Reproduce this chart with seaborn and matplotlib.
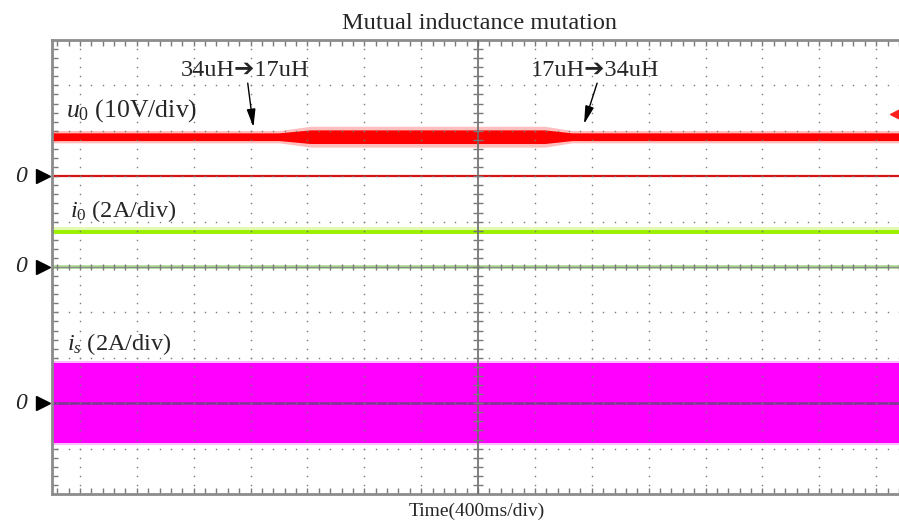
import numpy as np
import pandas as pd
import matplotlib
matplotlib.use("Agg")
import matplotlib.pyplot as plt
import seaborn as sns

# ---- recorded channels (time in s, trigger at t = 0) ----
t_span = [-3.0, 2.96]
t_env = [-3.0, -1.40, -1.18, 0.47, 0.66, 2.96]
u0_mean = [8.7, 8.7, 8.7, 8.7, 8.7, 8.7]        # V, output voltage
u0_core = [0.85, 0.85, 1.5, 1.5, 0.85, 0.85]    # V, half width of dense ripple band
u0_peak = [1.35, 1.35, 2.3, 2.3, 1.35, 1.35]    # V, half width reached by spikes
i0_mean = [1.55, 1.55]                          # A, output current
i0_core = [0.08, 0.08]
i0_peak = [0.22, 0.22]
is_amp = [1.75, 1.75]                           # A, HF source current amplitude
is_peak = [1.85, 1.85]

# scope channel settings
u0_scale, i0_scale, is_scale = 10.0, 2.0, 2.0   # units per division
u0_zero, i0_zero, is_zero = 7, 5, 2             # zero levels (divisions)
t_div = 0.4                                     # s per division

sns.set_theme(style="white")
plt.rcParams["font.family"] = ["Liberation Serif", "DejaVu Sans"]
plt.rcParams["mathtext.fontset"] = "custom"
plt.rcParams["mathtext.rm"] = "Liberation Serif"
plt.rcParams["mathtext.it"] = "Liberation Serif:italic"

W, H = 899, 523
fig = plt.figure(figsize=(W / 100, H / 100), dpi=100)
ax = fig.add_axes([51.5 / W, 29 / H, 1 - 51.5 / W, 454 / H])
ax.set_xlim(*t_span)
ax.set_ylim(0, 10)


def px(x, y):
    return x / W, 1 - y / H


# ---- traces ----
t_env_a = np.array(t_env)
u_mid = u0_zero + np.array(u0_mean) / u0_scale
u_core = np.array(u0_core) / u0_scale
u_pk = np.array(u0_peak) / u0_scale
ax.fill_between(t_env_a, u_mid - u_pk, u_mid + u_pk, color="#ff2a2a", alpha=0.3, lw=0, zorder=2)
ax.fill_between(t_env_a, u_mid - u_core, u_mid + u_core, color="#ff0000", lw=0, zorder=2.1)
df_u = pd.DataFrame({"t": t_env_a, "u": u_mid})
sns.lineplot(data=df_u, x="t", y="u", ax=ax, color="#ff0000", lw=1, zorder=2.2)
ax.axhline(u0_zero, color="#d41414", lw=1.6, zorder=2)

i_mid = i0_zero + np.array(i0_mean) / i0_scale
i_core = np.array(i0_core) / i0_scale
i_pk = np.array(i0_peak) / i0_scale
ax.fill_between(t_span, i_mid - i_core, i_mid + i_pk, color="#a4f000", alpha=0.3, lw=0, zorder=2)
ax.fill_between(t_span, i_mid - i_core, i_mid + i_core, color="#9cf000", lw=0, zorder=2.1)
ax.axhline(i0_zero, color="#a9d68e", lw=2.6, zorder=2)

s_amp = np.array(is_amp) / is_scale
s_pk = np.array(is_peak) / is_scale
ax.fill_between(t_span, is_zero - s_pk, is_zero + s_pk, color="#ff3cff", alpha=0.35, lw=0, zorder=2)
ax.fill_between(t_span, is_zero - s_amp, is_zero + s_amp, color="#ff00ff", lw=0, zorder=2.1)
ax.axhline(is_zero, color="#7b3a8e", lw=1.8, zorder=2.3)

# ---- graticule ----
grid_col = "#7a7a7a"
x_minor = np.arange(-37, 38) * t_div / 5
x_major = np.arange(-7, 8) * t_div
y_minor = np.arange(1, 50) * 0.2
for xm in x_major:
    if abs(xm) > 1e-9:
        ax.plot(np.full_like(y_minor, xm), y_minor, ls="none", marker="s", ms=1.0,
                mec="none", mfc=grid_col, zorder=5)
for ym in range(1, 10):
    if ym != 5:
        ax.plot(x_minor, np.full_like(x_minor, ym), ls="none", marker="s", ms=1.0,
                mec="none", mfc=grid_col, zorder=5)
ax.axvline(0, color="#6a6a6a", lw=1.2, zorder=5)
ax.axhline(5, color="#8a8a8a", lw=0.8, zorder=5)
ax.plot(np.zeros_like(y_minor), y_minor, ls="none", marker="_", ms=7, mew=1,
        color=grid_col, zorder=5)
ax.plot(x_minor, np.full_like(x_minor, 5.0), ls="none", marker="|", ms=5, mew=1,
        color=grid_col, zorder=5)

ax.set_xticks(x_minor)
ax.set_yticks(y_minor)
ax.tick_params(direction="in", length=4, width=1, color=grid_col,
               top=True, bottom=True, left=True, right=False,
               labelbottom=False, labelleft=False)
ax.set_xlabel("")
ax.set_ylabel("")
for side, sp in ax.spines.items():
    sp.set_color("#8c8c8c")
    sp.set_linewidth(2)
ax.spines["right"].set_visible(False)
ax.grid(False)

# ---- channel zero markers ----
for z in (u0_zero, i0_zero, is_zero):
    ax.plot([t_span[0] - 0.06], [z], marker=">", ms=10, color="black", clip_on=False, zorder=6)
    ax.text(t_span[0] - 0.215, z, "0", style="italic", fontsize=17, ha="center",
            va="center", clip_on=False)
# trigger level marker
ax.plot([t_span[1] - 0.02], [8.38], marker="<", ms=8, color="#ff1e1e", clip_on=False, zorder=6)

# ---- texts ----
fs = 17.5
fig.text(*px(479, 29), "Mutual inductance mutation", fontsize=fs, ha="center", va="baseline")
fig.text(*px(477, 516), "Time(400ms/div)", fontsize=14, ha="center", va="baseline")
fig.text(*px(66, 117), r"$u_{\mathit{0}}$ (10V/div)", fontsize=18.5, va="baseline")
fig.text(*px(70, 217), r"$i_{\mathit{0}}$ (2A/div)", fontsize=fs, va="baseline")
fig.text(*px(67, 350), r"$i_{\mathit{s}}$ (2A/div)", fontsize=fs, va="baseline")

aprops = dict(arrowstyle="-|>,head_length=0.9,head_width=0.22", color="black",
              lw=1, shrinkA=0, shrinkB=0)
ax.annotate("", xy=(-1.58, 8.08), xytext=(-1.62, 9.05), arrowprops=aprops, zorder=7)
ax.annotate("", xy=(0.745, 8.15), xytext=(0.837, 9.05), arrowprops=aprops, zorder=7)
fig.text(*px(245, 76), "34uH\u279417uH", fontsize=fs, ha="center", va="baseline")
fig.text(*px(595, 76), "17uH\u279434uH", fontsize=fs, ha="center", va="baseline")

fig.savefig("out.png", dpi=100)
